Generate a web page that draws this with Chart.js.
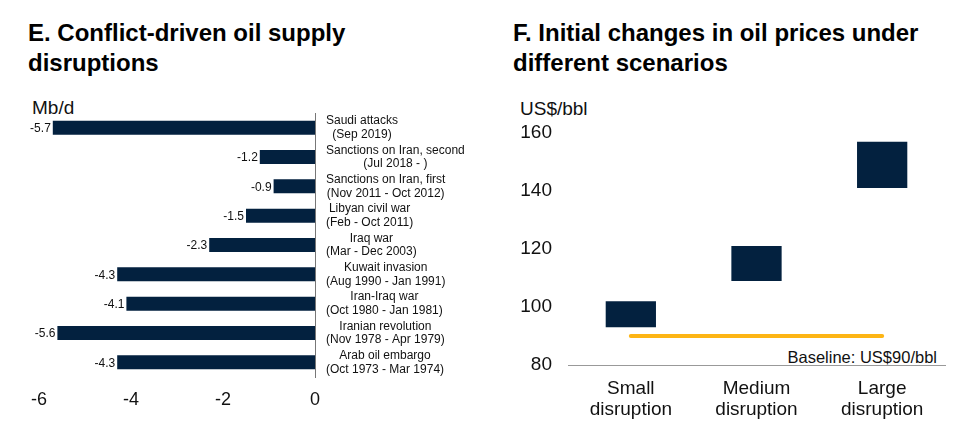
<!DOCTYPE html>
<html>
<head>
<meta charset="utf-8">
<script src="https://cdn.jsdelivr.net/npm/chart.js@4.4.1/dist/chart.umd.min.js"></script>
<style>
  body { margin: 0; background: #fff; font-family: "Liberation Sans", Arial, sans-serif; color: #111; }
  #wrap { position: relative; width: 960px; height: 446px; overflow: hidden; }
  .title { position: absolute; font-weight: bold; font-size: 24px; line-height: 30px; color: #000; }
  .unit { position: absolute; font-size: 19px; line-height: 1; color: #111; }
  .note { position: absolute; font-size: 16.5px; line-height: 1; color: #111; }
  canvas { position: absolute; }
</style>
</head>
<body>
<div id="wrap">
  <div class="title" style="left:28px; top:18px;">E. Conflict-driven oil supply<br>disruptions</div>
  <div class="title" style="left:513px; top:18px;">F. Initial changes in oil prices under<br>different scenarios</div>
  <div class="unit" style="left:32px; top:98px;">Mb/d</div>
  <div class="unit" style="left:520px; top:99px;">US$/bbl</div>
  <div class="note" style="right:23px; top:349px;">Baseline: US$90/bbl</div>
  <canvas id="supplyChart" style="left:0; top:90px;"></canvas>
  <canvas id="priceChart" style="left:480px; top:90px;"></canvas>
</div>
<script>
// Panel E: conflict-driven supply disruptions
const events = [
    ['Saudi attacks', '(Sep 2019)'],
    ['Sanctions on Iran, second', '(Jul 2018 - )'],
    ['Sanctions on Iran, first', '(Nov 2011 - Oct 2012)'],
    ['Libyan civil war', '(Feb - Oct 2011)'],
    ['Iraq war', '(Mar - Dec 2003)'],
    ['Kuwait invasion', '(Aug 1990 - Jan 1991)'],
    ['Iran-Iraq war', '(Oct 1980 - Jan 1981)'],
    ['Iranian revolution', '(Nov 1978 - Apr 1979)'],
    ['Arab oil embargo', '(Oct 1973 - Mar 1974)']
];
const supplyLoss = [-5.7, -1.2, -0.9, -1.5, -2.3, -4.3, -4.1, -5.6, -4.3];

// Panel F: price ranges by scenario
const scenarios = [['Small', 'disruption'], ['Medium', 'disruption'], ['Large', 'disruption']];
const priceLow = [93, 109, 141];
const priceHigh = [102, 121, 157];
const baseline = [90, 90, 90];

const NAVY = '#03213F';
const FONT = '"Liberation Sans", Arial, sans-serif';
Chart.defaults.font.family = FONT;
Chart.defaults.color = '#111';

function makeCanvas(id, w, h) {
    const c = document.getElementById(id);
    c.width = w; c.height = h;
    c.style.width = w + 'px'; c.style.height = h + 'px';
    return c.getContext('2d');
}

// draws value labels at bar ends and the two-line event labels right of zero
const supplyLabels = {
    id: 'supplyLabels',
    afterDatasetsDraw(chart) {
        const ctx = chart.ctx;
        const meta = chart.getDatasetMeta(0);
        const yScale = chart.scales.y;
        ctx.save();
        ctx.fillStyle = '#111';
        ctx.textBaseline = 'middle';
        ctx.font = '12px ' + FONT;
        ctx.textAlign = 'right';
        meta.data.forEach((bar, i) => {
            ctx.fillText(supplyLoss[i].toFixed(1), bar.x - 2, bar.y + 1);
        });
        ctx.textAlign = 'center';
        events.forEach((lines, i) => {
            const y = yScale.getPixelForTick(i);
            const w = Math.max(...lines.map(l => ctx.measureText(l).width));
            const cx = chart.chartArea.right + 11 + w / 2;
            ctx.fillText(lines[0], cx, y - 6.5);
            ctx.fillText(lines[1], cx, y + 7);
        });
        ctx.restore();
    }
};

new Chart(makeCanvas('supplyChart', 480, 330), {
    type: 'bar',
    data: {
        labels: events,
        datasets: [{
            data: supplyLoss,
            backgroundColor: NAVY,
            barPercentage: 0.48,
            categoryPercentage: 1
        }]
    },
    options: {
        indexAxis: 'y',
        responsive: false,
        animation: false,
        devicePixelRatio: 1,
        layout: { padding: { left: 39, right: 0, top: 23, bottom: 0 } },
        plugins: { legend: { display: false }, tooltip: { enabled: false } },
        scales: {
            x: {
                min: -6, max: 0,
                grid: { display: false, drawTicks: false },
                border: { display: false },
                ticks: { stepSize: 2, font: { size: 18 }, padding: 12, color: '#111' },
                afterFit(scale) { scale.height = 43; }
            },
            y: {
                position: 'right',
                grid: { display: false, drawTicks: false },
                border: { display: true, color: '#777', width: 1 },
                ticks: { display: false },
                afterFit(scale) { scale.width = 165; }
            }
        }
    },
    plugins: [supplyLabels]
});

new Chart(makeCanvas('priceChart', 480, 340), {
    type: 'bar',
    data: {
        labels: scenarios,
        datasets: [{
            type: 'line',
            data: baseline,
            borderColor: '#FDB515',
            borderWidth: 4,
            borderCapStyle: 'round',
            pointRadius: 0,
            fill: false
        }, {
            type: 'bar',
            data: priceLow.map((lo, i) => [lo, priceHigh[i]]),
            backgroundColor: NAVY,
            barPercentage: 0.4,
            categoryPercentage: 1
        }]
    },
    options: {
        responsive: false,
        animation: false,
        devicePixelRatio: 1,
        layout: { padding: { left: 0, right: 15, top: 43, bottom: 0 } },
        plugins: { legend: { display: false }, tooltip: { enabled: false } },
        scales: {
            x: {
                grid: { display: false, drawTicks: false },
                border: { display: true, color: '#999', width: 1 },
                ticks: { font: { size: 19, lineHeight: 1.13 }, padding: 13, color: '#111' },
                afterFit(scale) { scale.height = 65; }
            },
            y: {
                min: 80, max: 160,
                grid: { display: false, drawTicks: false },
                border: { display: false },
                ticks: { stepSize: 20, font: { size: 19 }, padding: 16, color: '#111' },
                afterFit(scale) { scale.width = 88; }
            }
        }
    }
});
</script>
</body>
</html>
